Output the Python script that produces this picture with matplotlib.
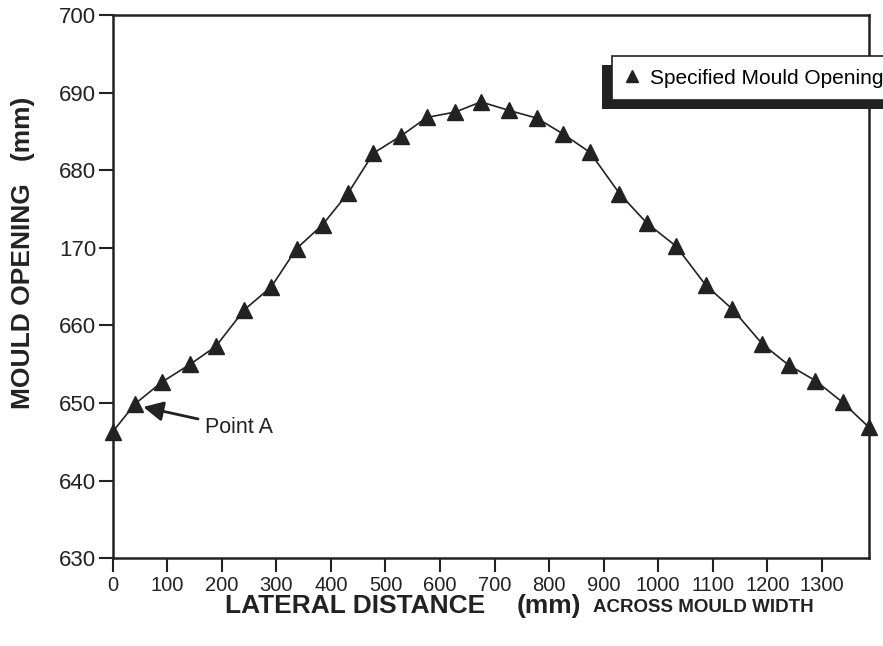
import matplotlib.pyplot as plt
from matplotlib.patches import Rectangle

plt.rcParams['font.family'] = ['Liberation Sans', 'DejaVu Sans']

# lateral distance across the mould (mm) and specified opening (mm)
dist = [0, 41, 90, 142, 189, 241, 291, 337, 385, 432, 478, 528, 576, 628, 675,
        727, 778, 825, 875, 929, 979, 1033, 1087, 1136, 1191, 1239, 1288, 1338, 1386]
opening = [646.3, 649.9, 652.7, 655.0, 657.3, 662.0, 665.0, 669.9, 673.0, 677.1,
           682.2, 684.4, 686.8, 687.5, 688.8, 687.7, 686.7, 684.7, 682.3, 677.0,
           673.2, 670.2, 665.2, 662.1, 657.6, 654.9, 652.9, 650.1, 646.9]

xticks = list(range(0, 1400, 100))
yticks = [630, 640, 650, 660, 670, 680, 690, 700]
ytick_labels = ['630', '640', '650', '660', '170', '680', '690', '700']

W, H = 883, 646
fig = plt.figure(figsize=(W / 100, H / 100), dpi=100)
ax = fig.add_axes([112.7 / W, 1 - 558.3 / H, (869.3 - 112.7) / W, (558.3 - 15) / H])

ink = '#222222'
line, = ax.plot(dist, opening, color=ink, lw=1.2, marker='^', markersize=11,
                markerfacecolor=ink, markeredgecolor=ink, clip_on=False, zorder=3)

ax.set_xlim(0, 1387)
ax.set_ylim(630, 700)
ax.set_xticks(xticks)
ax.set_yticks(yticks)
ax.set_yticklabels(ytick_labels)
ax.tick_params(direction='out', length=10, width=1.5, colors=ink)
ax.tick_params(axis='x', labelsize=14.5, pad=3)
ax.tick_params(axis='y', labelsize=16, pad=2)
for s in ax.spines.values():
    s.set_linewidth(1.8)
    s.set_color(ink)

# Point A
ax.annotate('Point A', xy=(56, 649.5), xytext=(169, 646.8), fontsize=15.5, color=ink,
            va='center', ha='left',
            arrowprops=dict(arrowstyle='-|>', color=ink, lw=2, mutation_scale=30,
                            shrinkA=3, shrinkB=0))

# legend with dark shadow offset to lower left
shadow = Rectangle((602 / W, 1 - 109 / H), 0.4, 44 / H, transform=fig.transFigure,
                   facecolor=ink, edgecolor='none', clip_on=False, zorder=4)
ax.add_patch(shadow)
leg = ax.legend([line], ['Specified Mould Opening'], loc='upper left',
                bbox_to_anchor=(612 / W, 1 - 56 / H), bbox_transform=fig.transFigure,
                fontsize=15, frameon=True, fancybox=False, framealpha=1,
                edgecolor=ink, borderpad=0.6, borderaxespad=0, handlelength=0.7,
                handletextpad=0.5, numpoints=1, markerscale=0.8)
leg.get_lines()[0].set_linestyle('none')
leg.get_frame().set_linewidth(1.2)
leg.set_zorder(5)

# axis labels
fig.text(23 / W, 1 - 253 / H, 'MOULD OPENING   (mm)', rotation=90, ha='center', va='center',
         fontsize=19, fontweight='bold', color=ink)
fig.text(225 / W, 1 - 606 / H, 'LATERAL DISTANCE', ha='left', va='center',
         fontsize=19, fontweight='bold', color=ink)
fig.text(517 / W, 1 - 606 / H, '(mm)', ha='left', va='center',
         fontsize=19, fontweight='bold', color=ink)
fig.text(593 / W, 1 - 607 / H, 'ACROSS MOULD WIDTH', ha='left', va='center',
         fontsize=13.5, fontweight='bold', color=ink)

fig.savefig('out.png', dpi=100)
